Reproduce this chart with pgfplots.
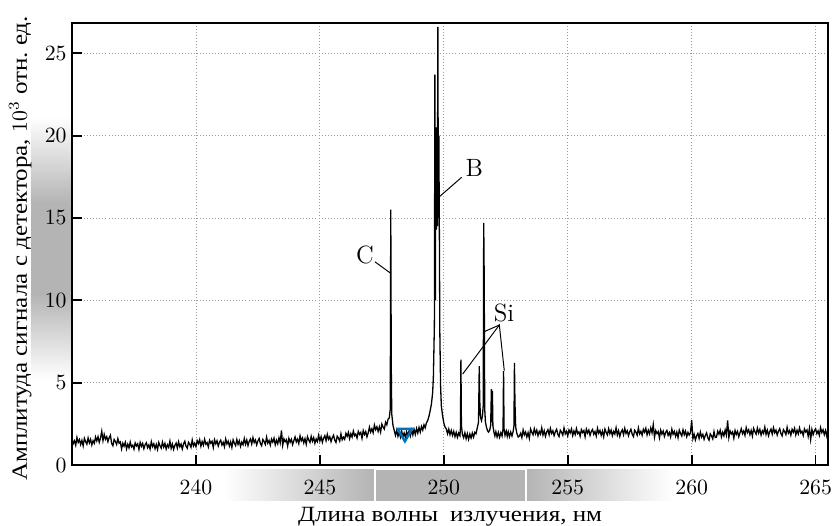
\documentclass[border=0pt]{standalone}
\usepackage{pgfplots}
\pgfplotsset{compat=1.18}
\usepackage{pgfplotstable}
\usepackage{fontspec}
\newfontfamily\cyr{Liberation Serif}[FakeStretch=1.15]
\definecolor{bandgray}{RGB}{180,180,180}
\definecolor{mblue}{RGB}{0,114,189}
\pgfplotstableread{
x y
235.00 1.60
235.05 1.30
235.10 1.47
235.15 1.20
235.20 1.67
235.25 1.37
235.30 1.54
235.35 1.24
235.40 1.50
235.45 1.16
235.50 1.62
235.55 1.42
235.60 1.27
235.65 1.64
235.70 1.34
235.75 1.56
235.80 1.22
235.85 1.48
235.90 1.32
235.95 1.70
236.00 1.46
236.05 1.72
236.10 1.38
236.15 1.64
236.20 2.05
236.25 1.48
236.30 1.86
236.35 1.56
236.40 1.72
236.45 1.42
236.50 1.66
236.55 1.81
236.60 1.31
236.65 1.17
236.70 1.55
236.75 1.43
236.80 1.25
236.85 1.60
236.90 1.33
236.95 1.40
237.00 0.98
237.05 1.32
237.10 1.14
237.15 1.38
237.20 0.98
237.25 1.26
237.30 1.04
237.35 1.40
237.40 1.10
237.45 1.20
237.50 0.96
237.55 1.34
237.60 1.16
237.65 1.28
237.70 0.95
237.75 1.37
237.80 1.13
237.85 1.31
237.90 0.99
237.95 1.23
238.00 1.35
238.05 1.05
238.10 1.22
238.15 0.97
238.20 1.42
238.25 1.12
238.30 1.29
238.35 0.99
238.40 1.25
238.45 0.95
238.50 1.37
238.55 1.17
238.60 1.02
238.65 1.39
238.70 1.09
238.75 1.31
238.80 0.97
238.85 1.23
238.90 1.07
238.95 1.45
239.00 1.01
239.05 1.27
239.10 0.95
239.15 1.19
239.20 1.33
239.25 1.03
239.30 1.41
239.35 1.11
239.40 1.27
239.45 0.97
239.50 1.29
239.55 1.44
239.60 1.14
239.65 1.02
239.70 1.38
239.75 1.26
239.80 1.08
239.85 1.52
239.90 1.16
239.95 1.32
240.00 1.12
240.05 1.48
240.10 1.30
240.15 1.54
240.20 1.14
240.25 1.42
240.30 1.20
240.35 1.56
240.40 1.26
240.45 1.36
240.50 1.10
240.55 1.50
240.60 1.32
240.65 1.44
240.70 1.06
240.75 1.53
240.80 1.29
240.85 1.47
240.90 1.15
240.95 1.39
241.00 1.51
241.05 1.21
241.10 1.38
241.15 1.11
241.20 1.58
241.25 1.28
241.30 1.45
241.35 1.15
241.40 1.41
241.45 1.07
241.50 1.53
241.55 1.33
241.60 1.18
241.65 1.55
241.70 1.25
241.75 1.47
241.80 1.13
241.85 1.39
241.90 1.23
241.95 1.61
242.00 1.26
242.05 1.52
242.10 1.18
242.15 1.44
242.20 1.58
242.25 1.28
242.30 1.66
242.35 1.36
242.40 1.52
242.45 1.22
242.50 1.46
242.55 1.61
242.60 1.31
242.65 1.17
242.70 1.55
242.75 1.43
242.80 1.25
242.85 1.69
242.90 1.33
242.95 1.49
243.00 1.21
243.05 1.57
243.10 1.39
243.15 1.63
243.20 1.23
243.25 1.51
243.30 1.29
243.35 1.65
243.40 1.35
243.45 2.10
243.50 1.19
243.55 1.59
243.60 1.41
243.65 1.53
243.70 1.15
243.75 1.62
243.80 1.38
243.85 1.56
243.90 1.24
243.95 1.48
244.00 1.70
244.05 1.40
244.10 1.57
244.15 1.30
244.20 1.77
244.25 1.47
244.30 1.64
244.35 1.34
244.40 1.60
244.45 1.26
244.50 1.72
244.55 1.52
244.60 1.37
244.65 1.74
244.70 1.44
244.75 1.66
244.80 1.32
244.85 1.58
244.90 1.42
244.95 1.80
245.00 1.46
245.05 1.72
245.10 1.38
245.15 1.64
245.20 1.78
245.25 1.48
245.30 1.86
245.35 1.56
245.40 1.72
245.45 1.42
245.50 1.66
245.55 1.81
245.60 1.51
245.65 1.37
245.70 1.75
245.75 1.63
245.80 1.45
245.85 1.89
245.90 1.53
245.95 1.69
246.00 1.56
246.05 1.92
246.10 1.74
246.15 1.98
246.20 1.60
246.25 1.90
246.30 1.70
246.35 2.06
246.40 1.78
246.45 1.88
246.50 1.64
246.55 2.04
246.60 1.86
246.65 1.98
246.70 1.62
246.75 2.09
246.80 1.85
246.85 2.03
246.90 1.71
246.95 1.95
247.00 2.30
247.05 2.00
247.10 2.20
247.15 1.96
247.20 2.43
247.25 2.15
247.30 2.32
247.35 2.04
247.40 2.32
247.45 2.00
247.50 2.48
247.55 2.30
247.60 2.18
247.65 2.60
247.70 2.44
247.75 2.78
247.80 2.86
247.84 3.40
247.86 15.50
247.88 6.00
247.90 3.10
247.95 2.40
248.00 2.10
248.05 1.80
248.10 2.10
248.15 1.74
248.20 2.00
248.25 1.70
248.30 2.05
248.35 1.72
248.40 1.94
248.45 1.66
248.50 2.02
248.55 1.78
248.60 2.08
248.65 1.76
248.70 2.12
248.75 1.82
248.80 2.16
248.85 1.86
248.90 2.22
248.95 1.94
249.00 2.28
249.05 2.00
249.10 2.34
249.15 2.12
249.20 2.44
249.25 2.26
249.30 2.56
249.35 2.70
249.40 2.95
249.45 3.30
249.50 3.70
249.55 4.40
249.58 5.40
249.62 8.50
249.64 23.70
249.66 10.00
249.68 20.50
249.70 14.30
249.72 19.80
249.74 14.50
249.76 26.60
249.78 15.00
249.80 20.00
249.82 14.30
249.84 8.00
249.87 4.80
249.90 3.60
249.95 3.00
250.00 2.55
250.05 2.30
250.10 2.20
250.15 1.90
250.20 2.18
250.25 1.84
250.30 2.10
250.35 1.80
250.40 2.04
250.45 1.72
250.50 1.98
250.55 1.68
250.60 1.94
250.65 1.78
250.67 2.20
250.69 6.40
250.71 2.40
250.75 1.86
250.80 1.66
250.85 1.96
250.90 1.60
250.95 1.90
251.00 1.56
251.05 1.88
251.10 1.64
251.15 1.94
251.20 1.70
251.25 1.98
251.30 1.90
251.35 2.26
251.40 2.60
251.43 6.00
251.45 3.90
251.48 2.90
251.52 2.70
251.56 3.00
251.59 3.60
251.61 14.70
251.63 11.30
251.65 3.40
251.68 2.60
251.72 2.30
251.76 2.10
251.80 2.00
251.85 2.10
251.89 2.40
251.92 4.60
251.94 2.60
251.96 4.50
251.98 2.40
252.02 2.00
252.06 1.76
252.10 2.02
252.15 1.70
252.20 1.98
252.25 1.68
252.30 1.96
252.35 1.76
252.39 2.20
252.41 5.70
252.43 2.20
252.47 1.80
252.52 2.06
252.56 1.74
252.60 2.02
252.65 1.72
252.70 2.00
252.75 1.76
252.80 2.06
252.83 2.40
252.85 6.20
252.87 3.80
252.90 2.30
252.95 1.90
253.00 1.70
253.05 1.76
253.10 1.93
253.15 1.66
253.20 2.13
253.25 1.83
253.30 2.00
253.35 1.70
253.40 1.96
253.45 1.62
253.50 2.18
253.55 1.98
253.60 1.83
253.65 2.20
253.70 1.90
253.75 2.12
253.80 1.78
253.85 2.04
253.90 1.88
253.95 2.26
254.00 1.82
254.05 2.08
254.10 1.74
254.15 2.00
254.20 2.14
254.25 1.84
254.30 2.22
254.35 1.92
254.40 2.08
254.45 1.78
254.50 2.02
254.55 2.17
254.60 1.87
254.65 1.73
254.70 2.11
254.75 1.99
254.80 1.81
254.85 2.25
254.90 1.89
254.95 2.05
255.00 1.77
255.05 2.13
255.10 1.95
255.15 2.19
255.20 1.79
255.25 2.07
255.30 1.85
255.35 2.21
255.40 1.91
255.45 2.01
255.50 1.75
255.55 2.15
255.60 1.97
255.65 2.09
255.70 1.71
255.75 2.18
255.80 1.94
255.85 2.12
255.90 1.80
255.95 2.04
256.00 2.16
256.05 1.86
256.10 2.03
256.15 1.76
256.20 2.23
256.25 1.93
256.30 2.10
256.35 1.80
256.40 2.06
256.45 1.72
256.50 2.18
256.55 1.98
256.60 1.83
256.65 2.20
256.70 1.90
256.75 2.12
256.80 1.78
256.85 2.04
256.90 1.88
256.95 2.26
257.00 1.82
257.05 2.08
257.10 1.74
257.15 2.00
257.20 2.14
257.25 1.84
257.30 2.22
257.35 1.92
257.40 2.08
257.45 1.78
257.50 2.02
257.55 2.17
257.60 1.87
257.65 1.73
257.70 2.11
257.75 1.99
257.80 1.81
257.85 2.25
257.90 1.89
257.95 2.05
258.00 1.81
258.05 2.17
258.10 1.99
258.15 2.23
258.20 1.83
258.25 2.11
258.30 1.89
258.35 2.25
258.40 1.95
258.45 2.45
258.50 1.69
258.55 2.09
258.60 1.91
258.65 2.03
258.70 1.65
258.75 2.12
258.80 1.88
258.85 2.06
258.90 1.74
258.95 1.98
259.00 2.10
259.05 1.80
259.10 1.97
259.15 1.70
259.20 2.17
259.25 1.87
259.30 2.04
259.35 1.74
259.40 2.00
259.45 1.66
259.50 2.12
259.55 1.92
259.60 1.77
259.65 2.14
259.70 1.84
259.75 2.06
259.80 1.72
259.85 1.98
259.90 1.82
259.95 1.96
260.00 2.72
260.05 1.60
260.10 1.86
260.15 1.52
260.20 1.78
260.25 1.92
260.30 1.62
260.35 2.00
260.40 1.70
260.45 1.86
260.50 1.56
260.55 1.80
260.60 1.95
260.65 1.65
260.70 1.51
260.75 1.89
260.80 1.77
260.85 1.59
260.90 2.03
260.95 1.67
261.00 1.69
261.05 2.05
261.10 1.87
261.15 2.11
261.20 1.71
261.25 1.99
261.30 1.77
261.35 2.13
261.40 1.83
261.45 2.70
261.50 1.67
261.55 2.07
261.60 1.89
261.65 2.01
261.70 1.63
261.75 2.10
261.80 1.86
261.85 2.04
261.90 1.72
261.95 1.96
262.00 2.20
262.05 1.90
262.10 2.07
262.15 1.80
262.20 2.27
262.25 1.97
262.30 2.14
262.35 1.84
262.40 2.10
262.45 1.76
262.50 2.22
262.55 2.02
262.60 1.87
262.65 2.24
262.70 1.94
262.75 2.16
262.80 1.82
262.85 2.08
262.90 1.92
262.95 2.30
263.00 1.86
263.05 2.12
263.10 1.78
263.15 2.04
263.20 2.18
263.25 1.88
263.30 2.26
263.35 1.96
263.40 2.12
263.45 1.82
263.50 2.06
263.55 2.21
263.60 1.91
263.65 1.77
263.70 2.15
263.75 2.03
263.80 1.85
263.85 2.29
263.90 1.93
263.95 2.09
264.00 1.81
264.05 2.17
264.10 1.99
264.15 2.23
264.20 1.83
264.25 2.11
264.30 1.89
264.35 2.25
264.40 1.95
264.45 2.05
264.50 1.79
264.55 2.19
264.60 2.01
264.65 2.13
264.70 1.75
264.75 2.22
264.80 1.55
264.85 2.16
264.90 1.84
264.95 2.08
265.00 2.20
265.05 1.90
265.10 2.07
265.15 1.80
265.20 2.27
265.25 1.97
265.30 2.14
265.35 1.84
265.40 2.10
265.45 1.76
265.50 2.22
}\spectrum
\begin{document}
\frenchspacing
\begin{tikzpicture}
% grey bands behind the tick labels
\shade[left color=white, right color=bandgray] (69.46pt,-16.4pt) rectangle (138.9pt,-2.16pt);
\fill[bandgray] (139.8pt,-16.4pt) rectangle (208.4pt,-2.16pt);
\shade[left color=bandgray, right color=white] (209.3pt,-16.4pt) rectangle (276.5pt,-2.16pt);
\shade[top color=white, bottom color=bandgray] (-18.86pt,120.5pt) rectangle (-0.6pt,160.1pt);
\fill[bandgray] (-18.86pt,79.12pt) rectangle (-0.6pt,120.06pt);
\shade[top color=bandgray, bottom color=white] (-18.86pt,39.1pt) rectangle (-0.6pt,78.7pt);
\begin{axis}[
  scale only axis,
  width=347.76pt, height=203.32pt,
  xmin=235, xmax=265.5, ymin=0, ymax=26.84,
  xtick={240,245,...,265}, ytick={0,5,...,25},
  tick pos=left, tick align=inside,
  major tick length=4.6pt,
  every tick/.style={black, line width=0.8pt},
  axis line style={line width=0.8pt},
  grid=major,
  major grid style={densely dotted, gray!80, line width=0.4pt},
  xticklabel style={yshift=-3.6pt},
  yticklabel style={xshift=1pt},
]
\addplot[black, line width=0.6pt] table {\spectrum};
\addplot[only marks, mark=triangle, mark size=3.8pt,
  mark options={rotate=180, draw=mblue, line width=1.1pt}] coordinates {(248.43,1.94)};
\draw[line width=0.45pt] (axis cs:247.22,12.34) -- (axis cs:247.86,11.64);
\draw[line width=0.45pt] (axis cs:250.72,17.47) -- (axis cs:249.82,16.29);
\draw[line width=0.45pt] (axis cs:250.76,5.52) -- (axis cs:252.24,8.5) -- (axis cs:252.44,5.73);
\draw[line width=0.45pt] (axis cs:251.62,8.09) -- (axis cs:252.24,8.5);
\node[font=\fontsize{11.5}{13}\selectfont] at (axis cs:246.82,12.75) {C};
\node[font=\fontsize{11.5}{13}\selectfont] at (axis cs:251.23,18.01) {B};
\node[font=\fontsize{11.5}{13}\selectfont] at (axis cs:252.43,9.21) {Si};
\end{axis}
\node[anchor=base] at (173.9pt,-26.1pt) {\cyr Длина волны\hspace{0.55em}излучения, нм};
\node[anchor=base, rotate=90] at (-20.8pt,99.6pt) {\cyr Амплитуда сигнала с детектора, $10^3$ отн.\ ед.};
\pgfresetboundingbox
\path[use as bounding box] (-33.12pt,-27.6pt) rectangle (351.44pt,213.9pt);
\end{tikzpicture}
\end{document}
